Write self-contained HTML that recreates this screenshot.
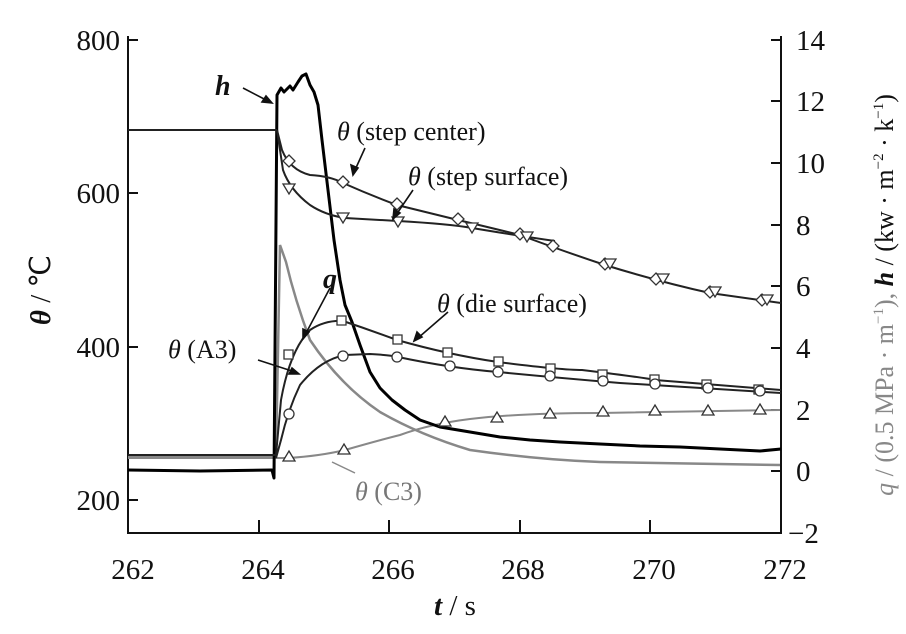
<!DOCTYPE html>
<html><head><meta charset="utf-8"><style>
html,body{margin:0;padding:0;background:#fff}
svg{display:block}
text{font-family:"Liberation Serif",serif;fill:#111}
</style></head><body>
<svg width="906" height="634" viewBox="0 0 906 634">
<g stroke="#111" stroke-width="2" fill="none">
<path d="M128,36 V533 H781 V36"/>
<path d="M128,40 h10 M128,193 h10 M128,347 h10 M128,500 h10"/>
<path d="M259,533 v-13 M389,533 v-13 M520,533 v-13 M650,533 v-13"/>
<path d="M781,40 h-10 M781,101 h-10 M781,163 h-10 M781,225 h-10 M781,286 h-10 M781,348 h-10 M781,410 h-10 M781,471 h-10"/>
</g>
<g font-size="29">
<text x="120" y="50" text-anchor="end">800</text>
<text x="120" y="203" text-anchor="end">600</text>
<text x="120" y="357" text-anchor="end">400</text>
<text x="120" y="510" text-anchor="end">200</text>
<g text-anchor="middle">
<text x="133" y="579">262</text><text x="263" y="579">264</text><text x="393" y="579">266</text>
<text x="523" y="579">268</text><text x="654" y="579">270</text><text x="785" y="579">272</text>
</g>
<g text-anchor="start">
<text x="796" y="50">14</text><text x="796" y="111">12</text><text x="796" y="173">10</text>
<text x="796" y="235">8</text><text x="796" y="296">6</text><text x="796" y="358">4</text>
<text x="796" y="420">2</text><text x="796" y="481">0</text><text x="788" y="543">−2</text>
</g>
<text x="455" y="615" text-anchor="middle"><tspan font-style="italic" font-weight="bold">t</tspan> / s</text>
<text transform="translate(50,290) rotate(-90)" text-anchor="middle"><tspan font-style="italic" font-weight="bold">θ</tspan> / ℃</text>
</g>
<text transform="translate(893,295) rotate(-90)" text-anchor="middle" font-size="26"><tspan fill="#888"><tspan font-style="italic">q</tspan> / (0.5 MPa · m<tspan font-size="15" dy="-10">−1</tspan><tspan dy="10">),</tspan></tspan>  <tspan font-style="italic" font-weight="bold">h</tspan> / (kw · m<tspan font-size="15" dy="-10">−2</tspan><tspan dy="10"> · k</tspan><tspan font-size="15" dy="-10">−1</tspan><tspan dy="10">)</tspan></text>

<path d="M128,456 H276 L280,245 L286,262 Q295,300 310,340 Q340,385 380,412 Q420,435 470,450 Q540,460 600,462 L780,465" stroke="#888" stroke-width="2.5" fill="none"/>
<path d="M128,458 H276 L288,458 Q320,456 345,450 Q380,440 400,435 Q430,424 470,419 Q520,413 600,413 L780,410" stroke="#888" stroke-width="2" fill="none"/>
<path d="M128,470 L200,471 L272,470 L274,478 L277,95 L281,88 L284,92 L290,86 L293,90 L298,82 L302,76 L306,74 L310,85 L314,92 L318,105 L322,140 L328,190 L334,240 L340,280 L345,305 L352,322 L360,345 L370,372 L380,388 L392,400 L405,410 L420,420 L440,427 L470,432 L500,437 L530,440 L560,442 L600,444 L640,446 L680,447 L720,449 L760,451 L781,449" stroke="#000" stroke-width="3" fill="none" stroke-linejoin="round"/>
<path d="M128,130 H277" stroke="#222" stroke-width="2" fill="none"/>
<path d="M277,130 L282,150 Q290,170 310,175 Q330,176 343,183 Q370,195 397,205 Q430,213 458,220 Q500,230 520,235 Q560,250 605,265 Q660,282 710,293 L781,303" stroke="#222" stroke-width="2" fill="none"/>
<path d="M277,130 L283,170 Q290,190 310,205 Q325,215 345,218 L398,221 Q450,224 472,228 Q520,236 555,241" stroke="#222" stroke-width="2" fill="none"/>
<path d="M128,455 H276 L281,400 Q290,350 310,330 Q325,320 343,321 Q370,330 397,340 Q450,355 498,362 Q560,370 582,370 Q640,377 655,380 L781,390" stroke="#222" stroke-width="2" fill="none"/>
<path d="M276,458 L281,440 Q288,410 300,385 Q320,360 345,355 L370,354 Q390,355 398,357 Q450,368 498,372 Q560,378 620,383 L781,393" stroke="#222" stroke-width="2" fill="none"/>
<g fill="#fff" stroke="#333" stroke-width="1.3">
<path d="M289,155 l6,6 -6,6 -6,-6z M343,176 l6,6 -6,6 -6,-6z M397,198 l6,6 -6,6 -6,-6z M458,213 l6,6 -6,6 -6,-6z M520,228 l6,6 -6,6 -6,-6z M553,240 l6,6 -6,6 -6,-6z M605,258 l6,6 -6,6 -6,-6z M656,273 l6,6 -6,6 -6,-6z M710,286 l6,6 -6,6 -6,-6z M762,294 l6,6 -6,6 -6,-6z"/>
<path d="M283,184 h12 l-6,10z M337,213 h12 l-6,10z M392,217 h12 l-6,10z M466,223 h12 l-6,10z M521,232 h12 l-6,10z M604,259 h12 l-6,10z M657,274 h12 l-6,10z M709,287 h12 l-6,10z M761,295 h12 l-6,10z"/>
<path d="M284,350 h9 v9 h-9z M337,316 h9 v9 h-9z M393,335 h9 v9 h-9z M443,348 h9 v9 h-9z M494,357 h9 v9 h-9z M546,364 h9 v9 h-9z M598,370 h9 v9 h-9z M650,375 h9 v9 h-9z M702,380 h9 v9 h-9z M754,385 h9 v9 h-9z"/>
<circle cx="289" cy="414" r="5"/><circle cx="343" cy="356" r="5"/><circle cx="397" cy="357" r="5"/><circle cx="450" cy="366" r="5"/><circle cx="498" cy="372" r="5"/><circle cx="550" cy="376" r="5"/><circle cx="603" cy="381" r="5"/><circle cx="655" cy="384" r="5"/><circle cx="708" cy="388" r="5"/><circle cx="760" cy="391" r="5"/>
<path d="M289,451 l6,10 h-12z M344,444 l6,10 h-12z M445,416 l6,10 h-12z M497,412 l6,10 h-12z M550,408 l6,10 h-12z M603,406 l6,10 h-12z M655,405 l6,10 h-12z M708,405 l6,10 h-12z M760,404 l6,10 h-12z"/>
</g>
<g stroke="#111" stroke-width="1.6" fill="#111">
<path d="M243,88 L268,101" fill="none"/><path d="M272,103 l-10,-1 4,-6z"/>
<path d="M365,148 L355,170" fill="none"/><path d="M353,175 l-2,-10 7,3z"/>
<path d="M413,190 L396,215" fill="none"/><path d="M393,219 l1,-10 6,4z"/>
<path d="M448,312 L418,338" fill="none"/><path d="M414,341 l3,-9 5,5z"/>
<path d="M330,288 L305,335" fill="none"/><path d="M303,339 l0,-10 6,3z"/>
<path d="M258,360 L295,372" fill="none"/><path d="M299,374 l-10,0 3,-6z"/>
</g>
<path d="M355,473 L332,462" stroke="#888" stroke-width="1.5"/>
<g font-size="26">
<text x="215" y="95" font-style="italic" font-weight="bold" font-size="28">h</text>
<text x="337" y="140"><tspan font-style="italic">θ</tspan> (step center)</text>
<text x="408" y="185"><tspan font-style="italic">θ</tspan> (step surface)</text>
<text x="437" y="312"><tspan font-style="italic">θ</tspan> (die surface)</text>
<text x="323" y="288" font-style="italic" font-weight="bold" font-size="28">q</text>
<text x="168" y="358"><tspan font-style="italic">θ</tspan> (A3)</text>
<text x="355" y="500" fill="#777"><tspan font-style="italic" fill="#777">θ</tspan><tspan fill="#777"> (C3)</tspan></text>
</g>
</svg>
</body></html>
